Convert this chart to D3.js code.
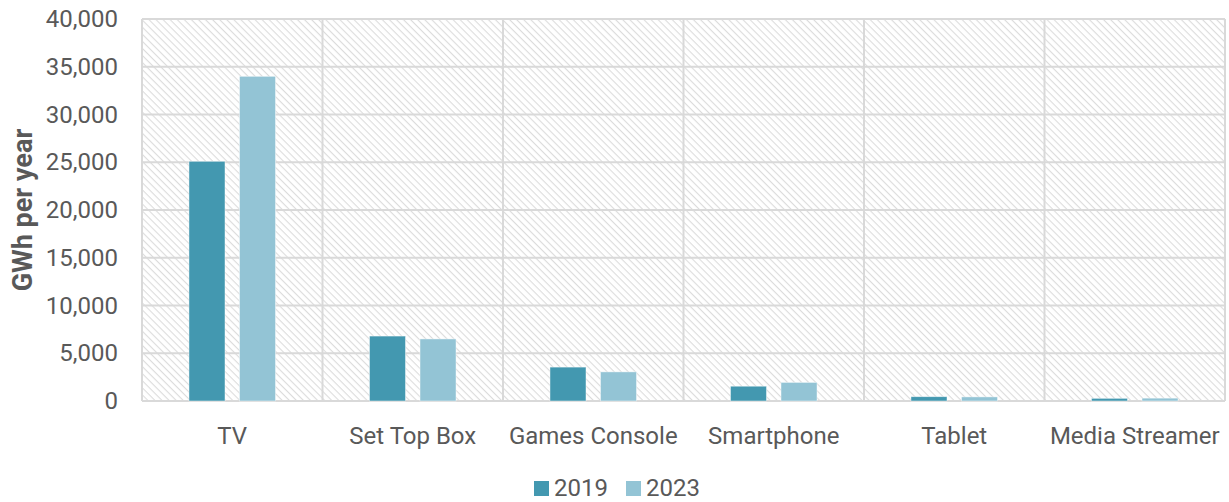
<!DOCTYPE html>
<html>
<head>
<meta charset="utf-8">
<script src="https://cdn.jsdelivr.net/npm/d3@7"></script>
<style>
  html, body { margin: 0; padding: 0; background: #fff; }
  svg { display: block; }
  svg text { font-family: Roboto, "Open Sans", sans-serif; }
</style>
</head>
<body>
<svg id="chart" width="1229" height="502"></svg>
<script>
// Annual electricity use of consumer devices, GWh per year
const categories = ["TV", "Set Top Box", "Games Console", "Smartphone", "Tablet", "Media Streamer"];
const seriesNames = ["2019", "2023"];
const values2019 = [25100, 6800, 3550, 1550, 450, 280];
const values2023 = [34000, 6500, 3050, 1950, 430, 300];
const yTicks = [0, 5000, 10000, 15000, 20000, 25000, 30000, 35000, 40000];
const colors = ["#4398B0", "#93C4D5"];

const FONT = "Roboto, 'Open Sans', sans-serif";
const FS = "24px";
const TXT = "#595959";

const svg = d3.select("#chart");
const margin = { top: 19, right: 4, bottom: 101, left: 142 };
const W = 1229, H = 502;
const innerW = W - margin.left - margin.right;
const innerH = H - margin.top - margin.bottom;

// Diagonal hatch fill for the plot background
const defs = svg.append("defs");
const pat = defs.append("pattern")
  .attr("id", "hatch")
  .attr("patternUnits", "userSpaceOnUse")
  .attr("width", 5).attr("height", 5)
  .attr("patternTransform", "rotate(45)");
pat.append("rect").attr("width", 5).attr("height", 5).attr("fill", "#ffffff");
pat.append("line").attr("x1", 0).attr("y1", 0).attr("x2", 5).attr("y2", 0)
  .attr("stroke", "#dcdcdc").attr("stroke-width", 2.2);

const g = svg.append("g").attr("transform", `translate(${margin.left},${margin.top})`);

const x = d3.scaleBand().domain(categories).range([0, innerW]).paddingInner(0).paddingOuter(0);
const x1 = d3.scaleBand().domain(seriesNames).range([0, x.bandwidth()]).paddingInner(0.287).paddingOuter(0.93);
const y = d3.scaleLinear().domain([0, 40000]).range([innerH, 0]);

g.append("rect").attr("width", innerW).attr("height", innerH).attr("fill", "url(#hatch)");

// Horizontal gridlines
g.append("g")
  .selectAll("line").data(yTicks).join("line")
  .attr("x1", 0).attr("x2", innerW)
  .attr("y1", d => y(d)).attr("y2", d => y(d))
  .attr("stroke", "#d9d9d9").attr("stroke-width", 2);

// Vertical category separators
const seps = categories.map(c => x(c)).concat([innerW]);
g.append("g")
  .selectAll("line").data(seps).join("line")
  .attr("x1", d => d).attr("x2", d => d)
  .attr("y1", 0).attr("y2", innerH)
  .attr("stroke", "#d9d9d9").attr("stroke-width", 2);

// Bars
const rows = categories.map((c, i) => ({ cat: c, vals: [values2019[i], values2023[i]] }));
const groups = g.append("g").selectAll("g").data(rows).join("g")
  .attr("transform", d => `translate(${x(d.cat)},0)`);
groups.selectAll("rect")
  .data(d => d.vals.map((v, j) => ({ key: seriesNames[j], v, j })))
  .join("rect")
  .attr("x", d => x1(d.key))
  .attr("width", x1.bandwidth())
  .attr("y", d => y(d.v))
  .attr("height", d => innerH - y(d.v))
  .attr("fill", d => colors[d.j])
  .attr("stroke", "#ffffff").attr("stroke-width", 0.75).attr("stroke-opacity", 0.6);

// Y axis
const yAxis = g.append("g")
  .call(d3.axisLeft(y).tickValues(yTicks).tickSize(0).tickPadding(24).tickFormat(d3.format(",")));
yAxis.attr("font-family", FONT);
yAxis.select(".domain").remove();
yAxis.selectAll("text").attr("fill", TXT).style("font-size", FS).style("font-family", FONT);

// X axis
const xAxis = g.append("g").attr("transform", `translate(0,${innerH})`)
  .call(d3.axisBottom(x).tickSize(0).tickPadding(25.5));
xAxis.attr("font-family", FONT);
xAxis.select(".domain").remove();
xAxis.selectAll("text").attr("fill", TXT).style("font-size", FS).style("font-family", FONT);

// Y axis title
svg.append("text")
  .attr("transform", `translate(32,${margin.top + innerH / 2}) rotate(-90)`)
  .attr("text-anchor", "middle")
  .attr("fill", TXT)
  .style("font-family", FONT)
  .style("font-size", "27px").style("font-weight", "bold")
  .text("GWh per year");

// Legend
const legend = svg.append("g").attr("transform", "translate(534,481)");
const legendItems = legend.selectAll("g").data(seriesNames).join("g")
  .attr("transform", (d, i) => `translate(${i * 92},0)`);
legendItems.append("rect").attr("width", 15).attr("height", 15)
  .attr("fill", (d, i) => colors[i]);
legendItems.append("text").attr("x", 20).attr("y", 15)
  .attr("fill", TXT).style("font-family", FONT).style("font-size", FS)
  .text(d => d);
</script>
</body>
</html>
